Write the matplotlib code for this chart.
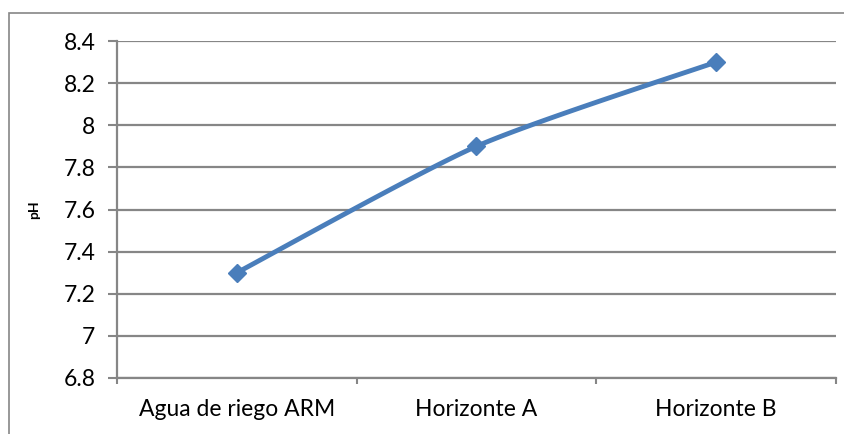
import matplotlib
matplotlib.use('Agg')
import matplotlib.pyplot as plt
import numpy as np
from matplotlib.patches import Rectangle

categories = ['Agua de riego ARM', 'Horizonte A', 'Horizonte B']
ph = [7.3, 7.9, 8.3]
yticks = [6.8, 7, 7.2, 7.4, 7.6, 7.8, 8, 8.2, 8.4]
ytick_labels = ['6.8', '7', '7.2', '7.4', '7.6', '7.8', '8', '8.2', '8.4']

GRID = '#868686'
BLUE = '#4A7EBB'


def smooth(xs, ys, n=40, tension=0.7):
    # Catmull-Rom style curve through the points, like a smoothed Excel line
    xs = np.asarray(xs, float)
    ys = np.asarray(ys, float)
    px = np.concatenate([[xs[0]], xs, [xs[-1]]])
    py = np.concatenate([[ys[0]], ys, [ys[-1]]])
    outx, outy = [], []
    for i in range(1, len(px) - 2):
        t = np.linspace(0, 1, n)
        for p, out in ((px, outx), (py, outy)):
            p0, p1, p2, p3 = p[i - 1], p[i], p[i + 1], p[i + 2]
            c1 = p1 + (p2 - p0) / 6 * tension
            c2 = p2 - (p3 - p1) / 6 * tension
            out.extend((1 - t) ** 3 * p1 + 3 * (1 - t) ** 2 * t * c1
                       + 3 * (1 - t) * t ** 2 * c2 + t ** 3 * p2)
    return np.array(outx), np.array(outy)


def main() -> int:
    plt.rcParams['font.family'] = ['Lato', 'DejaVu Sans']
    fig = plt.figure(figsize=(8.45, 4.34), dpi=100)
    ax = fig.add_axes([117 / 845, 1 - 378 / 434, (836 - 117) / 845, (378 - 41) / 434])

    # outer chart border
    fig.patches.append(Rectangle((9 / 845, -0.1), 1.2, 1 - 13 / 434 + 0.1,
                                 transform=fig.transFigure, fill=False,
                                 edgecolor=GRID, linewidth=1.2))

    x = np.arange(len(categories))
    sx, sy = smooth(x, ph)
    ax.plot(sx, sy, color=BLUE, linewidth=3.5, solid_capstyle='round', zorder=3)
    ax.plot(x, ph, linestyle='none', marker='D', markersize=9.5,
            color=BLUE, zorder=4)

    ax.set_xlim(-0.5, len(categories) - 0.5)
    ax.set_ylim(6.8, 8.4)
    ax.set_yticks(yticks)
    ax.set_yticklabels(ytick_labels, fontsize=16.5)
    ax.set_xticks(x)
    ax.set_xticklabels(categories, fontsize=16.5)
    ax.set_xticks(np.arange(-0.5, len(categories)), minor=True)
    ax.tick_params(axis='x', which='major', length=0, pad=15)
    ax.tick_params(axis='x', which='minor', length=4.5, width=1.5, color=GRID, direction='out')
    ax.tick_params(axis='y', length=6.5, width=1.5, color=GRID, pad=9)

    ax.grid(axis='y', color=GRID, linewidth=1.6)
    ax.set_axisbelow(True)
    for side in ('top', 'right'):
        ax.spines[side].set_visible(False)
    for side in ('left', 'bottom'):
        ax.spines[side].set_color(GRID)
        ax.spines[side].set_linewidth(1.6)

    ax.set_ylabel('pH', fontsize=10, fontweight='bold', labelpad=17)

    fig.savefig('out.png', dpi=100)
    return 0


if __name__ == '__main__':
    main()
